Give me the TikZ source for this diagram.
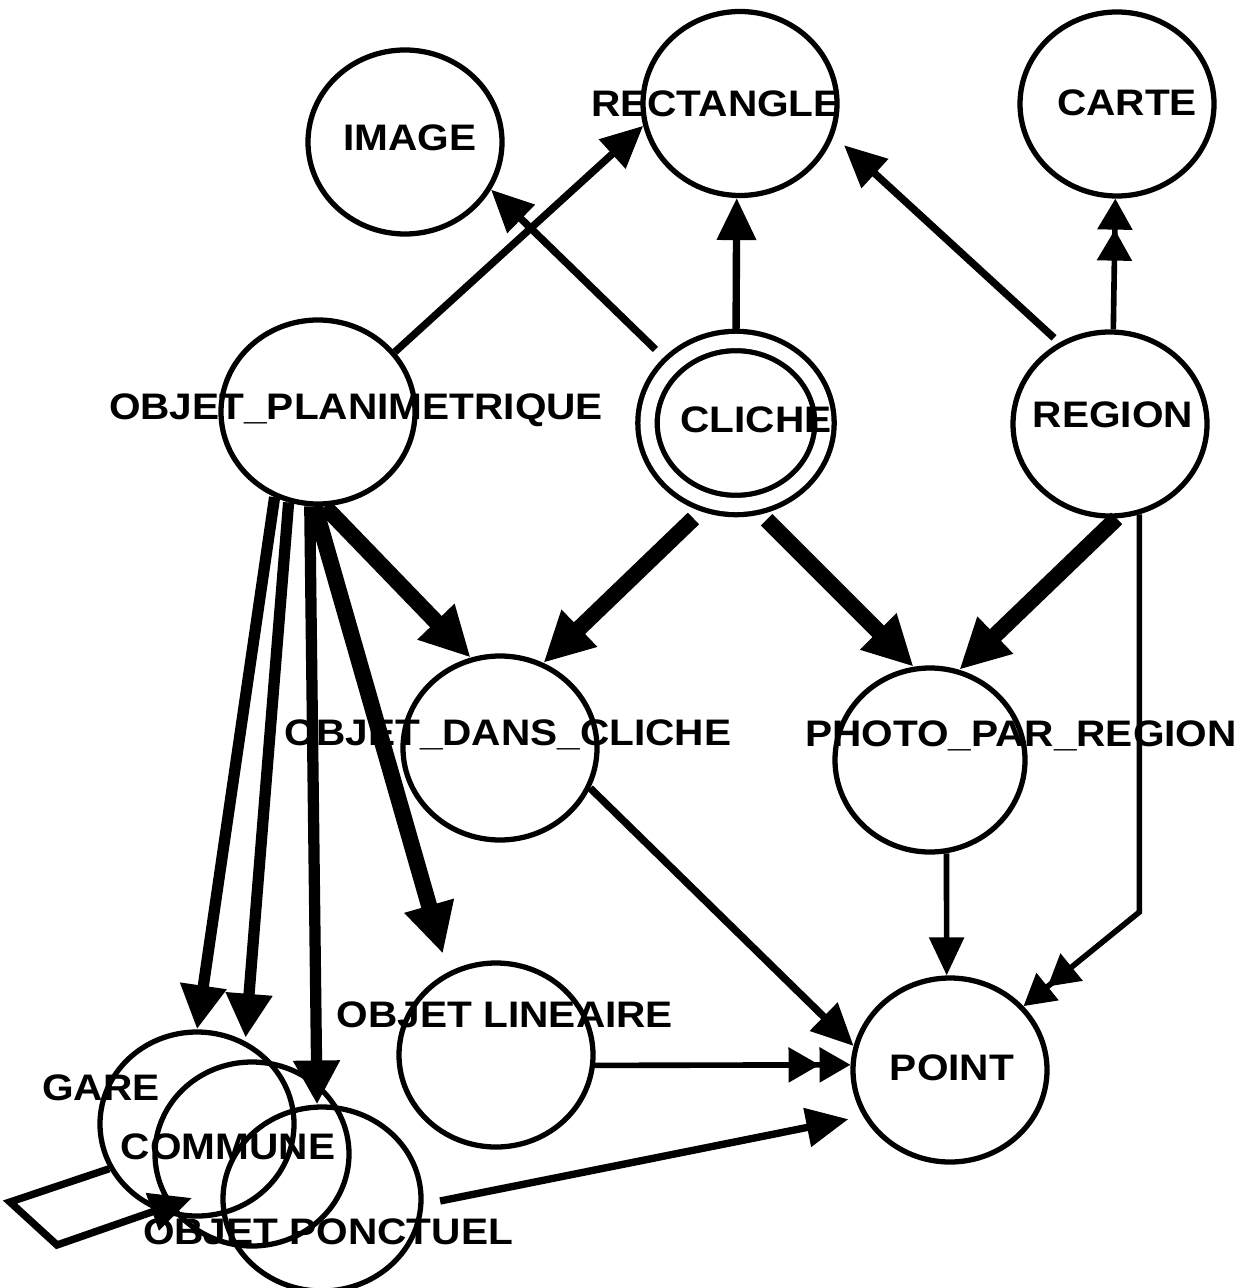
\documentclass[tikz,border=0pt]{standalone}
\usepackage{fontspec}
\newfontfamily\lblfont[FakeStretch=1.1]{Liberation Sans}
\usepackage{tikz}
\usetikzlibrary{automata,shapes,arrows.meta}
\tikzset{every state/.style={ellipse,draw,line width=1.5pt,minimum width=1.94cm,minimum height=1.84cm,inner sep=0pt},
  every label/.style={font=\lblfont\bfseries\fontsize{10.5}{12}\selectfont,inner sep=0pt},
  plain/.style={line width=2.1pt,-{Triangle[length=0.42cm,width=0.38cm]}},
  weak/.style={line width=1.6pt,-{Triangle[length=0.38cm,width=0.34cm]}},
  twin/.style={line width=1.6pt,-{Triangle[length=0.31cm,width=0.34cm] Triangle[length=0.31cm,width=0.34cm]}},
  mid/.style={line width=3.2pt,-{Triangle[length=0.44cm,width=0.44cm]}},
  heavy/.style={line width=4.6pt,-{Triangle[length=0.5cm,width=0.48cm]}}}

\begin{document}
\begin{tikzpicture}
    \useasboundingbox (0,0) rectangle (12.58,-12.88);
    \node[state,label={[shift={(-0.24,0)}]center:RECTANGLE}] (rect) at (7.40,-1.035) {};
    \node[state,label={[shift={(0.05,0.04)}]center:IMAGE}] (image) at (4.05,-1.42) {};
    \node[state,label={[shift={(0.10,0.01)}]center:CARTE}] (carte) at (11.17,-1.04) {};
    \node[state,label={[shift={(0.38,0.02)}]center:OBJET\_PLANIMETRIQUE}] (plan) at (3.18,-4.12) {};
    \node[state,accepting,double distance=4pt,minimum width=1.77cm,minimum height=1.64cm,
          label={[shift={(0.20,0.03)}]center:CLICHE}] (cliche) at (7.36,-4.23) {};
    \node[state,label={[shift={(0.03,0.09)}]center:REGION}] (region) at (11.10,-4.24) {};
    \node[state,label={[shift={(0.08,0.13)}]center:OBJET\_DANS\_CLICHE}] (dans) at (5.00,-7.48) {};
    \node[state,minimum width=1.90cm,label={[shift={(0.91,0.24)}]center:PHOTO\_PAR\_REGION}] (photo) at (9.30,-7.60) {};
    \node[state,label={[shift={(0.09,0.40)}]center:OBJET LINEAIRE}] (lin) at (4.96,-10.55) {};
    \node[state,label={[shift={(0.02,0.02)}]center:POINT}] (point) at (9.50,-10.70) {};
    \node[state,label={[shift={(-0.96,0.36)}]center:GARE}] (gare) at (1.97,-11.24) {};
    \node[state,label={[shift={(-0.24,0.07)}]center:COMMUNE}] (commune) at (2.52,-11.54) {};
    \node[state,minimum width=1.98cm,label={[shift={(0.06,-0.33)}]center:OBJET PONCTUEL}] (ponct) at (3.22,-11.99) {};
    \coordinate (knee) at (0,-9.12);
    \coordinate (loopa) at (0.10,-12.02);
    \coordinate (loopb) at (0.57,-12.45);
    \coordinate (loopend) at (1.92,-11.98);
    \path
    (plan.38) edge[plain] (rect.193)
    (cliche.138) edge[plain,shorten <=2mm] (image.331)
    (cliche.90) edge[plain,shorten <=0.6mm] (rect.268)
    (region.122) edge[plain,shorten <=0.7mm,shorten >=1.4mm] (rect.341)
    (region.88) edge[twin] (carte.269)
    (plan.274) edge[heavy] (dans.108)
    (cliche.251) edge[heavy,shorten <=2mm] (dans.63)
    (cliche.282) edge[heavy,shorten <=1.8mm] (photo.100)
    (region.274) edge[heavy] (photo.72)
    (photo.280) edge[weak] (point.92)
    (dans.336) edge[plain] (point.166)
    (lin.354) edge[twin] (point.177)
    (ponct.357) edge[plain,shorten <=1.7mm,shorten >=1.5mm] (point.208)
    (plan.243) edge[mid] (gare.90)
    (plan.252) edge[mid,shorten >=2.2mm] (commune.95)
    (plan.265) edge[mid] (ponct.93)
    (plan.268) edge[heavy,shorten >=1.9mm] (lin.120)
    ;
    \draw[twin] (region.288) -- (region.288 |- knee) -- (point.41);
    \draw[plain] (gare.207) -- (loopa) -- (loopb) -- (loopend);
\end{tikzpicture}
\end{document}
